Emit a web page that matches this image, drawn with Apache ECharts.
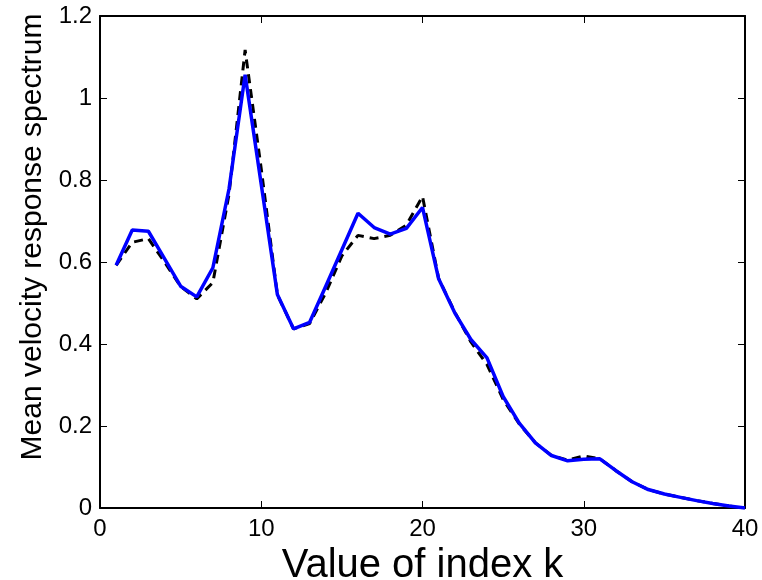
<!DOCTYPE html>
<html>
<head>
<meta charset="utf-8">
<script src="https://cdn.jsdelivr.net/npm/echarts@6/dist/echarts.min.js"></script>
<style>
html,body{margin:0;padding:0;background:#fff;}
#main{width:762px;height:580px;}
</style>
</head>
<body>
<div id="main"></div>
<script>
// index k
var kValues = [1,2,3,4,5,6,7,8,9,10,11,12,13,14,15,16,17,18,19,20,
               21,22,23,24,25,26,27,28,29,30,31,32,33,34,35,36,37,38,39,40];
// blue solid curve
var blueSpectrum = [0.592,0.678,0.675,0.608,0.541,0.515,0.586,0.778,1.057,0.789,
                    0.521,0.437,0.453,0.541,0.630,0.719,0.684,0.668,0.682,0.733,
                    0.559,0.476,0.411,0.366,0.272,0.207,0.159,0.128,0.115,0.119,
                    0.120,0.091,0.064,0.045,0.034,0.026,0.018,0.011,0.005,0.000];
// black dashed curve
var blackSpectrum = [0.592,0.648,0.657,0.600,0.540,0.510,0.550,0.765,1.117,0.827,
                     0.520,0.437,0.450,0.525,0.615,0.665,0.657,0.665,0.690,0.760,
                     0.560,0.478,0.405,0.350,0.265,0.205,0.159,0.128,0.117,0.127,
                     0.120,0.091,0.064,0.045,0.034,0.026,0.018,0.011,0.005,0.000];
var xTicks = [0,10,20,30,40];
var yTicks = [0,0.2,0.4,0.6,0.8,1,1.2];

function pairs(ys) {
    return kValues.map(function (k, i) { return [k, ys[i]]; });
}

var myChart = echarts.init(document.getElementById('main'));

var fontName = 'Liberation Sans, Arial, sans-serif';
var boxLine = {show: true, onZero: false, lineStyle: {color: '#000', width: 2}};
var inTick = {show: true, inside: true, length: 7, lineStyle: {color: '#000', width: 1}};

myChart.setOption({
    animation: false,
    backgroundColor: '#fff',
    grid: {left: 100, right: 17, top: 16, bottom: 72, outerBoundsMode: 'none', containLabel: false},
    xAxis: [{
        type: 'value',
        min: xTicks[0], max: xTicks[xTicks.length - 1], interval: 10,
        name: 'Value of index k',
        nameLocation: 'middle',
        nameGap: 26,
        nameTextStyle: {fontSize: 40, color: '#000', fontFamily: fontName},
        axisLine: boxLine,
        axisTick: inTick,
        splitLine: {show: false},
        axisLabel: {fontSize: 24, color: '#000', fontFamily: fontName, margin: 9}
    }, {
        type: 'value', position: 'top',
        min: 0, max: 40, interval: 10,
        axisLine: boxLine, axisTick: inTick,
        axisLabel: {show: false}, splitLine: {show: false}
    }],
    yAxis: [{
        type: 'value',
        min: yTicks[0], max: yTicks[yTicks.length - 1], interval: 0.2,
        name: 'Mean velocity response spectrum',
        nameLocation: 'middle',
        nameGap: 52,
        nameTextStyle: {fontSize: 30, color: '#000', fontFamily: fontName, padding: [0, 0, 0, 50]},
        axisLine: boxLine,
        axisTick: inTick,
        splitLine: {show: false},
        axisLabel: {fontSize: 24, color: '#000', fontFamily: fontName, margin: 8,
            formatter: function (v) { return String(Math.round(v * 10) / 10); }}
    }, {
        type: 'value', position: 'right',
        min: 0, max: 1.2, interval: 0.2,
        axisLine: boxLine, axisTick: inTick,
        axisLabel: {show: false}, splitLine: {show: false}
    }],
    series: [{
        name: 'dashed',
        type: 'line',
        data: pairs(blackSpectrum),
        symbol: 'none',
        lineStyle: {color: '#000', width: 3, type: [9, 6]},
        z: 2
    }, {
        name: 'solid',
        type: 'line',
        data: pairs(blueSpectrum),
        symbol: 'none',
        lineStyle: {color: '#0000ff', width: 3.5},
        z: 3
    }]
});
</script>
</body>
</html>
